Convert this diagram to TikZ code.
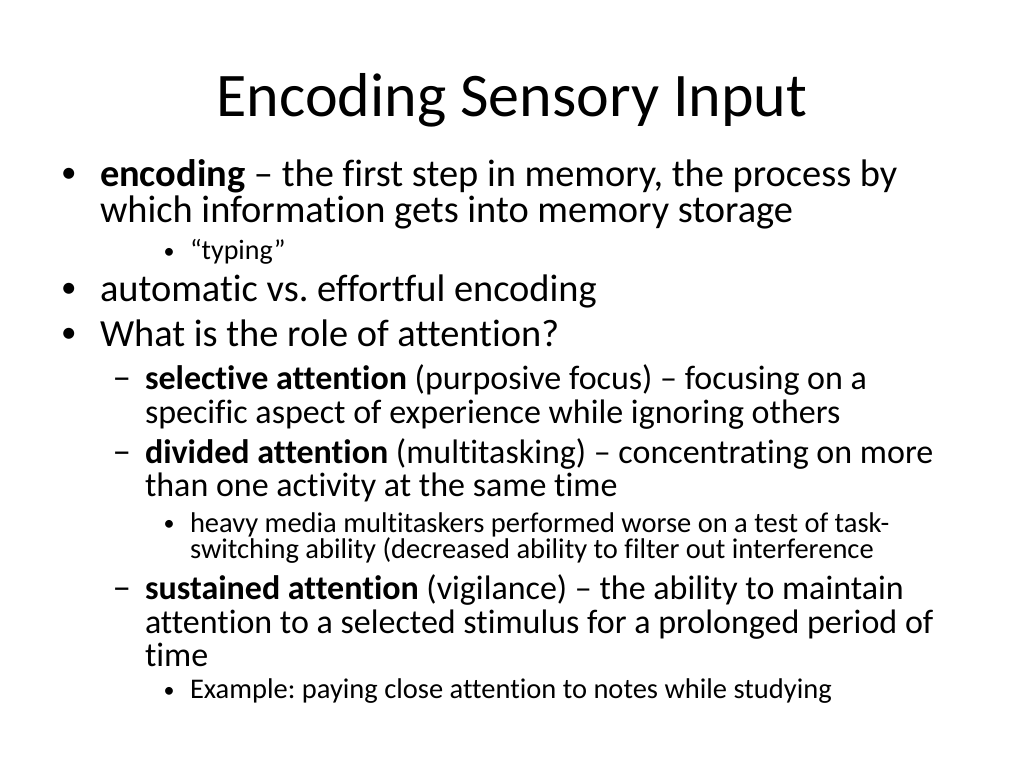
\documentclass[tikz,border=0pt]{standalone}
\usepackage{fontspec}
\setmainfont{Carlito}[Ligatures={NoCommon}]
\tikzset{
  txt/.style={anchor=base west, inner sep=0pt, outer sep=0pt},
  lone/.style={txt, font=\fontsize{38.4}{44}\selectfont},
  ltwo/.style={txt, font=\fontsize{34}{40}\selectfont},
  lthree/.style={txt, font=\fontsize{28.5}{33}\selectfont},
  ltyp/.style={txt, font=\fontsize{28}{33}\selectfont},
  bone/.style={txt, font=\fontsize{31}{36}\selectfont},
  bthree/.style={txt, font=\fontsize{22}{26}\selectfont},
  dtwo/.style={txt, font=\fontsize{37}{40}\selectfont},
  ttl/.style={anchor=base, inner sep=0pt, font=\fontsize{62}{70}\selectfont},
}
\begin{document}
\frenchspacing
\begin{tikzpicture}[x=1pt,y=1pt]
\useasboundingbox[fill=white] (0,0) rectangle (1024,768);
\node[ttl] (title) at (512,768-117) {Encoding Sensory Input};
% level 1
\node[bone] (b1) at (61,768-183) {•};
\node[lone] (t1) at (100,768-187) {\textbf{encoding} – the first step in memory, the process by};
\node[lone] (t1b) at (100,768-222.5) {which information gets into memory storage};
\node[bthree] (b1a) at (163.5,768-258.5) {•};
\node[ltyp] (t1a) at (190,768-260) {“typing”};
\node[bone] (b2) at (61,768-297.5) {•};
\node[lone] (t2) at (100,768-301.5) {automatic vs. effortful encoding};
\node[bone] (b3) at (61,768-343) {•};
\node[lone] (t3) at (100,768-347) {What is the role of attention?};
% level 2
\node[dtwo] (d1) at (112.5,768-390) {–};
\node[ltwo] (s1) at (145,768-390) {\textbf{selective attention} (purposive focus) – focusing on a};
\node[ltwo] (s1b) at (145,768-423.5) {specific aspect of experience while ignoring others};
\node[dtwo] (d2) at (112.5,768-463.5) {–};
\node[ltwo] (s2) at (145,768-463.5) {\textbf{divided attention} (multitasking) – concentrating on more};
\node[ltwo] (s2b) at (145,768-497) {than one activity at the same time};
\node[bthree] (b2a) at (163.5,768-531) {•};
\node[lthree] (s2a) at (190,768-532.5) {heavy media multitaskers performed worse on a test of task-};
\node[lthree] (s2ab) at (190,768-558.5) {switching ability (decreased ability to filter out interference};
\node[dtwo] (d3) at (112.5,768-600) {–};
\node[ltwo] (s3) at (145,768-600) {\textbf{sustained attention} (vigilance) – the ability to maintain};
\node[ltwo] (s3b) at (145,768-633.3) {attention to a selected stimulus for a prolonged period of};
\node[ltwo] (s3c) at (145,768-666) {time};
\node[bthree] (b3a) at (163.5,768-697) {•};
\node[lthree] (s3a) at (190,768-698.5) {Example: paying close attention to notes while studying};
\end{tikzpicture}
\end{document}
